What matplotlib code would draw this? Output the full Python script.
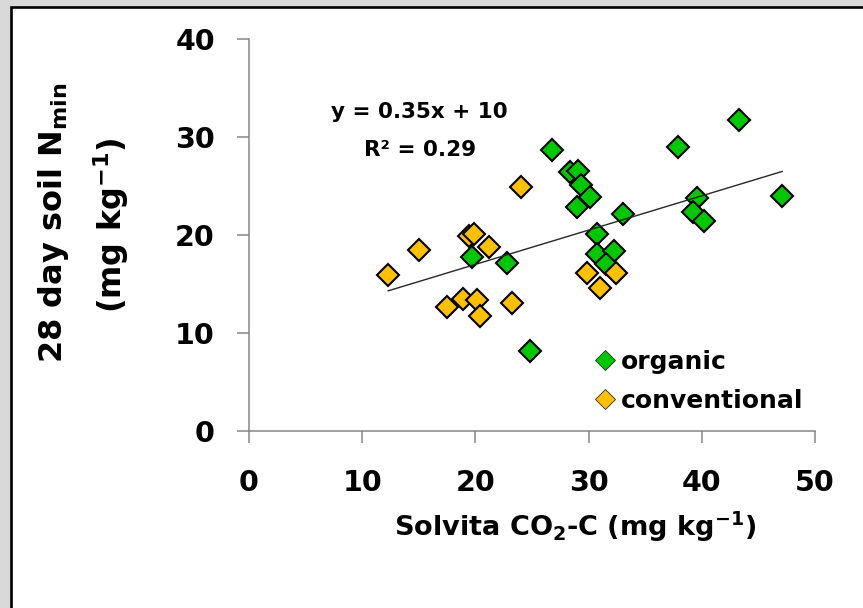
import matplotlib
matplotlib.use("Agg")
import matplotlib.pyplot as plt
import numpy as np
from matplotlib.patches import Rectangle
from matplotlib.lines import Line2D

# ---- data ----
organic_x = [43.3, 37.9, 26.8, 28.4, 29.1, 29.3, 30.1, 29.0, 39.6, 47.1,
             39.2, 40.2, 33.0, 30.7, 30.7, 32.2, 31.5, 19.7, 22.8, 24.8]
organic_y = [31.7, 29.0, 28.7, 26.4, 26.5, 25.1, 23.9, 22.9, 23.8, 24.0,
             22.3, 21.4, 22.1, 20.1, 18.1, 18.4, 17.0, 17.8, 17.1, 8.2]
conventional_x = [24.0, 19.4, 19.9, 21.2, 15.0, 12.3, 17.5, 18.9, 20.1, 20.4,
                  23.2, 29.9, 32.4, 31.0]
conventional_y = [24.9, 19.9, 20.1, 18.8, 18.5, 15.9, 12.7, 13.5, 13.4, 11.7,
                  13.1, 16.1, 16.1, 14.6]
trend_slope = 0.35
trend_intercept = 10
r_squared = 0.29
x_ticks = [0, 10, 20, 30, 40, 50]
y_ticks = [0, 10, 20, 30, 40]

plt.rcParams['font.family'] = ['DejaVu Sans']
plt.rcParams['mathtext.fontset'] = 'dejavusans'

W, H = 863, 608
fig = plt.figure(figsize=(W / 100, H / 100), dpi=100, facecolor='#d9d9d9')

# white panel with black border (top/left visible)
panel = Rectangle((10.5 / W, -0.2), 1.5, 1.2 - 7 / H, transform=fig.transFigure,
                  facecolor='white', edgecolor='black', linewidth=1.9, zorder=-10)
fig.patches.append(panel)

ax = fig.add_axes([249 / W, 1 - 431 / H, (815 - 249) / W, (431 - 39) / H])
ax.set_facecolor('none')
ax.set_zorder(1)

green = '#00c800'
gold = '#ffc000'

ax.plot(organic_x, organic_y, linestyle='none', marker='D', ms=10.8,
        markerfacecolor=green, markeredgecolor='black', markeredgewidth=1.5, zorder=3)
ax.plot(conventional_x, conventional_y, linestyle='none', marker='D', ms=10.8,
        markerfacecolor=gold, markeredgecolor='black', markeredgewidth=1.5, zorder=3)

all_x = np.array(organic_x + conventional_x)
tx = np.array([all_x.min(), all_x.max()])
ax.plot(tx, trend_slope * tx + trend_intercept, color='#262626', lw=1.0, zorder=4)

ax.set_xlim(0, 50)
ax.set_ylim(0, 40)
ax.set_xticks(x_ticks)
ax.set_yticks(y_ticks)
for s in ['top', 'right']:
    ax.spines[s].set_visible(False)
for s in ['left', 'bottom']:
    ax.spines[s].set_color('#868686')
    ax.spines[s].set_linewidth(1.1)
ax.tick_params(axis='both', direction='out', length=8.5, width=1.1, color='#868686',
               labelsize=20.5, labelcolor='black')
ax.tick_params(axis='y', pad=16)
ax.tick_params(axis='x', pad=19)
for lab in ax.get_xticklabels() + ax.get_yticklabels():
    lab.set_fontweight('bold')

ax.set_xlabel(r'Solvita CO$_\mathbf{2}$-C (mg kg$^\mathbf{-1}$)', fontsize=19.5,
              fontweight='bold', va='center')
ax.xaxis.set_label_coords((575 - 249) / 566, (431 - 527) / 392)

ax.text((54 - 249) / 566, (431 - 223) / 392, r'28 day soil N$_\mathbf{min}$',
        transform=ax.transAxes, rotation=90, ha='center', va='center',
        fontsize=23, fontweight='bold')
ax.text((111 - 249) / 566, (431 - 225) / 392, r'(mg kg$^\mathbf{-1}$)',
        transform=ax.transAxes, rotation=90, ha='center', va='center',
        fontsize=23, fontweight='bold')

ax.text((419 - 249) / 11.32, (431 - 112) / 9.8,
        'y = %.2fx + %d' % (trend_slope, trend_intercept),
        ha='center', va='center', fontsize=15.5, fontweight='bold')
ax.text((420 - 249) / 11.32, (431 - 150) / 9.8, 'R² = %.2f' % r_squared,
        ha='center', va='center', fontsize=15.5, fontweight='bold')

handles = [
    Line2D([], [], linestyle='none', marker='D', ms=10, markerfacecolor=green,
           markeredgecolor='#2a2a2a', markeredgewidth=0.6),
    Line2D([], [], linestyle='none', marker='D', ms=10, markerfacecolor=gold,
           markeredgecolor='#2a2a2a', markeredgewidth=0.6),
]
leg = ax.legend(handles, ['organic', 'conventional'], loc='upper left',
                bbox_to_anchor=(596 / W, 1 - 350 / H), bbox_transform=fig.transFigure,
                frameon=False, borderpad=0, borderaxespad=0, handlelength=0.7,
                handletextpad=0.3, labelspacing=0.6,
                prop={'size': 18, 'weight': 'bold'})

fig.savefig('out.png', dpi=100, facecolor=fig.get_facecolor())
